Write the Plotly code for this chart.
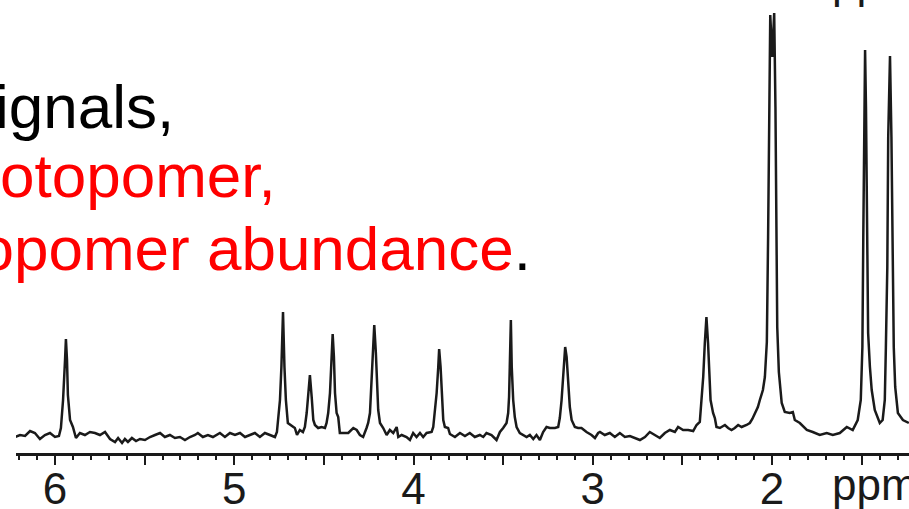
import plotly.graph_objects as go

# Chemical shift (ppm) and intensity (a.u.)
shift_ppm = [
    6.223, 6.195, 6.167, 6.139, 6.112, 6.084, 6.056, 6.028, 6.000, 5.978,
    5.967, 5.955, 5.944, 5.939, 5.933, 5.928, 5.916, 5.900, 5.883, 5.861,
    5.833, 5.805, 5.777, 5.749, 5.721, 5.693, 5.665, 5.648, 5.626, 5.610,
    5.593, 5.571, 5.548, 5.526, 5.498,
    5.470, 5.442, 5.414, 5.387, 5.359, 5.331, 5.303, 5.275, 5.247, 5.219,
    5.203, 5.175, 5.147, 5.119, 5.080, 5.052, 5.024, 4.996, 4.968, 4.940,
    4.912, 4.885, 4.857, 4.829, 4.801, 4.773, 4.762, 4.756, 4.745, 4.737,
    4.728, 4.720, 4.712, 4.701, 4.684, 4.662, 4.650, 4.634,
    4.617, 4.606, 4.596, 4.587, 4.578, 4.568, 4.559, 4.550, 4.532, 4.513,
    4.494, 4.485, 4.476, 4.466, 4.457, 4.451, 4.444, 4.438, 4.429, 4.420,
    4.411, 4.392, 4.364, 4.336, 4.317, 4.299, 4.281, 4.262, 4.253, 4.243,
    4.234, 4.225, 4.219, 4.210, 4.202, 4.197, 4.187, 4.169, 4.150, 4.132,
    4.113, 4.094, 4.085, 4.066, 4.039, 4.020, 4.002, 3.983, 3.964, 3.946,
    3.927, 3.899, 3.890, 3.881, 3.871, 3.862, 3.857, 3.849, 3.843, 3.834,
    3.825, 3.807,
    3.797, 3.769, 3.741, 3.713, 3.686, 3.658, 3.630, 3.611, 3.593, 3.565,
    3.537, 3.518, 3.500, 3.481, 3.472, 3.467, 3.463, 3.457, 3.452, 3.444,
    3.435, 3.425, 3.407, 3.388, 3.369, 3.351, 3.332, 3.314, 3.295, 3.277,
    3.258, 3.239, 3.211, 3.193, 3.184, 3.174, 3.165, 3.154, 3.146, 3.137,
    3.128, 3.118, 3.100, 3.082, 3.063, 3.035, 3.007, 2.988, 2.970,
    2.960, 2.933, 2.905, 2.877, 2.849, 2.821, 2.793, 2.765, 2.737, 2.709,
    2.682, 2.654, 2.626, 2.598, 2.570, 2.542, 2.524, 2.496, 2.468, 2.440,
    2.421, 2.403, 2.393, 2.384, 2.375, 2.366, 2.357, 2.351, 2.343, 2.329,
    2.319, 2.310, 2.291, 2.263, 2.245, 2.226, 2.208, 2.189, 2.170, 2.142,
    2.124,
    2.110, 2.096, 2.079, 2.068, 2.051, 2.040, 2.029, 2.022, 2.016, 2.010,
    1.999, 1.988, 1.981, 1.977, 1.971, 1.962, 1.946, 1.929, 1.901, 1.884,
    1.873, 1.845, 1.806, 1.773, 1.734, 1.695, 1.661, 1.622, 1.583, 1.550,
    1.522, 1.505, 1.496, 1.491, 1.485, 1.481, 1.476, 1.469, 1.464, 1.454,
    1.444, 1.427, 1.399, 1.383, 1.371, 1.365, 1.357, 1.352, 1.342, 1.334,
    1.328, 1.321, 1.313, 1.298, 1.270, 1.237,
]

intensity = [
    0, 2, 1, 6, 4, -2, 2, 4, 0, 1,
    9, 37, 77, 98, 77, 42, 17, 10, -1, 4,
    2, 5, 4, 2, 5, -2, -5, -1, -6, -2,
    -5, -1, -4, -2, -3,
    0, 2, 4, 0, 2, -1, 0, -3, 0, 2,
    4, 0, 2, 0, 4, 0, 4, 2, 4, 0,
    2, 4, 0, 4, 2, 0, 5, 17, 37, 70,
    125, 70, 37, 14, 12, 9, 2, 7,
    5, 10, 24, 40, 62, 40, 17, 12, 9, 10,
    9, 14, 24, 44, 80, 103, 80, 44, 24, 20,
    4, 4, 4, 9, 7, 2, 0, 9, 14, 24,
    54, 84, 112, 84, 47, 27, 14, 9, 2, 7,
    4, 10, 0, 2, 0, -3, 4, 0, 4, 0,
    4, 5, 10, 24, 44, 70, 88, 70, 44, 17,
    10, 9,
    3, 0, 4, 1, 4, 0, 2, 0, 4, 2,
    -3, 5, 9, 14, 24, 40, 70, 117, 70, 37,
    20, 10, 4, 2, 0, 2, -2, 2, -3, 5,
    10, 9, 9, 10, 19, 37, 64, 90, 80, 54,
    30, 17, 10, 9, 9, 5, 2, -1, 4,
    5, 2, 4, 0, 4, 0, 1, -1, -3, 0,
    5, 2, -1, 4, 7, 5, 10, 7, 7, 6,
    12, 15, 37, 60, 94, 120, 94, 60, 37, 24,
    19, 10, 9, 12, 9, 7, 9, 12, 10, 12,
    14,
    18, 24, 30, 37, 47, 60, 95, 200, 335, 422,
    380, 424, 330, 200, 110, 65, 34, 25, 24, 25,
    17, 14, 7, 5, 2, 4, 2, 4, 10, 7,
    17, 37, 90, 200, 330, 387, 330, 200, 104, 70,
    47, 27, 14, 17, 37, 90, 170, 300, 381, 300,
    170, 90, 50, 24, 17, 14,
]

tick_values = [6, 5.5, 5, 4.5, 4, 3.5, 3, 2.5, 2, 1.5]
tick_labels = ["6", "", "5", "", "4", "", "3", "", "2", ""]

FONT = "Liberation Sans, Arial, sans-serif"
INK = "#1a1a1a"

fig = go.Figure()
fig.add_trace(go.Scatter(
    x=shift_ppm, y=intensity, mode="lines",
    line=dict(color=INK, width=2.5), showlegend=False, hoverinfo="skip",
))

fig.update_layout(
    width=909, height=509,
    margin=dict(l=16, r=0, t=0, b=56, autoexpand=False),
    paper_bgcolor="white", plot_bgcolor="white",
    font=dict(family=FONT, color=INK),
    xaxis=dict(
        range=[6.2175, 1.236], showgrid=False, zeroline=False,
        automargin=False,
        showline=True, linewidth=3, linecolor=INK,
        ticks="outside", ticklen=9, tickwidth=2, tickcolor=INK,
        tickmode="array", tickvals=tick_values, ticktext=tick_labels,
        tickfont=dict(size=44, family=FONT, color=INK),
        ticklabelstandoff=-14,
        minor=dict(ticks="outside", dtick=0.1, tick0=0, ticklen=4,
                   tickwidth=1.5, tickcolor=INK),
    ),
    yaxis=dict(range=[-16, 437], visible=False, automargin=False),
)

ann = [
    dict(text="signals,", x=0.1792, y=0.766, color="#000000"),
    dict(text="otopomer,", x=0.2934, y=0.6115, color="#ff0000"),
    dict(text="isotopomer abundance<span style='color:#000000'>.</span>",
         x=0.5789, y=0.4525, color="#ff0000"),
]
for a in ann:
    fig.add_annotation(
        text=a["text"], x=a["x"], y=a["y"], xref="paper", yref="paper",
        xanchor="right", yanchor="middle", showarrow=False,
        font=dict(size=62, family=FONT, color=a["color"]),
    )

fig.add_annotation(text="ppm", x=0.9115, y=-0.0706, xref="paper", yref="paper",
                   xanchor="left", yanchor="middle", showarrow=False,
                   font=dict(size=44, family=FONT, color=INK))
fig.add_annotation(text="ppm", x=0.9115, y=1.0397, xref="paper", yref="paper",
                   xanchor="left", yanchor="middle", showarrow=False,
                   font=dict(size=44, family=FONT, color=INK))

fig.write_html("out.html")
